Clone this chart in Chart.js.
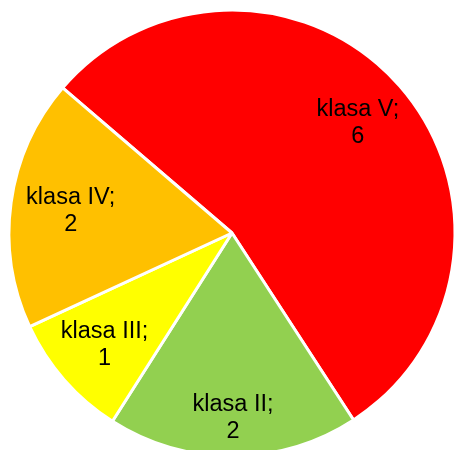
<!DOCTYPE html>
<html>
<head>
<meta charset="utf-8">
<script src="https://cdn.jsdelivr.net/npm/chart.js@4/dist/chart.umd.min.js"></script>
<style>
  html, body { margin: 0; padding: 0; background: #ffffff; overflow: hidden; }
  #wrap { position: absolute; left: 0; top: 0; width: 464px; height: 466px; }
</style>
</head>
<body>
<div id="wrap"><canvas id="c" width="464" height="466"></canvas></div>
<script>
// Data
const categories = ['klasa V', 'klasa II', 'klasa III', 'klasa IV'];
const values = [6, 2, 1, 2];
const colors = ['#FF0000', '#92D050', '#FFFF00', '#FFC000'];
// Label layout (radial fraction of outer radius for each slice label)
const labelRadialFraction = [0.75, 0.83, 0.76, 0.73];

const labelPlugin = {
  id: 'sliceLabels',
  afterDatasetsDraw(chart) {
    const ctx = chart.ctx;
    const meta = chart.getDatasetMeta(0);
    ctx.save();
    ctx.fillStyle = '#000000';
    ctx.font = '23.5px "Liberation Sans", Arial, sans-serif';
    ctx.textAlign = 'center';
    ctx.textBaseline = 'middle';
    meta.data.forEach((arc, i) => {
      const p = arc.getProps(['x', 'y', 'startAngle', 'endAngle', 'outerRadius'], true);
      const mid = (p.startAngle + p.endAngle) / 2;
      const r = p.outerRadius * labelRadialFraction[i];
      const cx = p.x + Math.cos(mid) * r;
      const cy = p.y + Math.sin(mid) * r;
      ctx.fillText(categories[i] + ';', cx, cy - 13.5);
      ctx.fillText(String(values[i]), cx, cy + 13.5);
    });
    ctx.restore();
  }
};

new Chart(document.getElementById('c'), {
  type: 'pie',
  data: {
    labels: categories,
    datasets: [{
      data: values,
      backgroundColor: colors,
      borderColor: '#FFFFFF',
      borderWidth: 3
    }]
  },
  options: {
    responsive: false,
    animation: false,
    rotation: -49.4,
    radius: 223,
    layout: { padding: 0 },
    plugins: {
      legend: { display: false },
      tooltip: { enabled: false }
    }
  },
  plugins: [labelPlugin]
});
</script>
</body>
</html>
